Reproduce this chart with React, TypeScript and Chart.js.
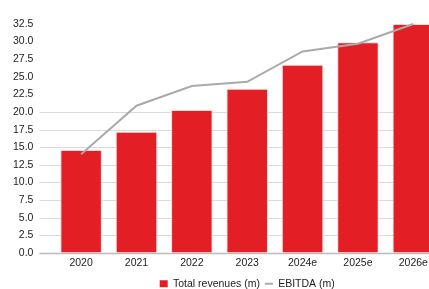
import { useEffect, useRef } from "react";
import { Chart, registerables } from "chart.js";

Chart.register(...registerables);

const categories = ["2020", "2021", "2022", "2023", "2024e", "2025e", "2026e"];
const revenues = [14.6, 17.2, 20.3, 23.3, 26.7, 29.9, 32.5];
const ebitda = [14.0, 20.9, 23.7, 24.3, 28.6, 29.7, 32.5];
const seriesNames = ["Total revenues (m)", "EBITDA (m)"];
const yMin = 0;
const yMax = 32.5;
const yStep = 2.5;
const gridMaxValue = 20;

const RED = "#e31e24";
const GREY = "#aaaaaa";
const FONT = "'Liberation Sans', Arial, sans-serif";
const TICK_LEN = 14;

const partialGrid = {
  id: "partialGrid",
  beforeDatasetsDraw(chart: any) {
    const { ctx, chartArea } = chart;
    const y = chart.scales.y;
    ctx.save();
    for (const t of y.ticks) {
      if (t.value > gridMaxValue) continue;
      const py = Math.round(y.getPixelForValue(t.value)) + 0.5;
      ctx.beginPath();
      ctx.strokeStyle = t.value === 0 ? "#bbbbbb" : "#dadada";
      ctx.lineWidth = t.value === 0 ? 1.5 : 1;
      ctx.moveTo(chartArea.left - TICK_LEN, py);
      ctx.lineTo(chartArea.right, py);
      ctx.stroke();
    }
    ctx.restore();
  },
};

export default function App() {
  const ref = useRef<HTMLCanvasElement | null>(null);

  useEffect(() => {
    document.body.style.margin = "0";
    const canvas = ref.current;
    if (!canvas) return;
    const chart = new Chart(canvas, {
      type: "bar",
      data: {
        labels: categories,
        datasets: [
          {
            type: "bar",
            label: seriesNames[0],
            data: revenues,
            backgroundColor: RED,
            borderColor: "rgba(255,210,210,0.9)",
            borderWidth: 1,
            categoryPercentage: 0.75,
            barPercentage: 1,
            order: 2,
          },
          {
            type: "line",
            label: seriesNames[1],
            data: ebitda,
            borderColor: GREY,
            backgroundColor: GREY,
            borderWidth: 2,
            pointRadius: 0,
            tension: 0,
            clip: false,
            order: 1,
          } as any,
        ],
      },
      plugins: [partialGrid],
      options: {
        responsive: false,
        animation: false,
        devicePixelRatio: 1,
        layout: { padding: { left: 7, right: 2, top: 24, bottom: 0 } },
        plugins: {
          tooltip: { enabled: false },
          legend: {
            position: "bottom",
            fullSize: false,
            labels: {
              usePointStyle: true,
              pointStyleWidth: 8,
              boxHeight: 7,
              padding: 5,
              color: "#222",
              font: { family: FONT, size: 10.5 },
              sort: (a: any, b: any) => a.datasetIndex - b.datasetIndex,
              generateLabels: (c: any) => {
                const items = Chart.defaults.plugins.legend.labels.generateLabels(c);
                return items.map((it: any) => ({
                  ...it,
                  pointStyle: it.datasetIndex === 0 ? "rect" : "line",
                  strokeStyle: it.datasetIndex === 0 ? RED : GREY,
                  fillStyle: it.datasetIndex === 0 ? RED : GREY,
                  lineWidth: it.datasetIndex === 0 ? 0 : 2,
                }));
              },
            },
          },
        },
        scales: {
          x: {
            grid: { display: false, drawTicks: false },
            border: { display: false },
            ticks: { color: "#222", font: { family: FONT, size: 10.5 }, padding: 4 },
          },
          y: {
            min: yMin,
            max: yMax,
            border: { display: false },
            grid: {
              color: "rgba(0,0,0,0)",
              drawOnChartArea: false,
              tickLength: TICK_LEN,
            },
            ticks: {
              stepSize: yStep,
              padding: 6,
              color: "#222",
              font: { family: FONT, size: 10.5 },
              callback: (v: any) => Number(v).toFixed(1),
            },
          },
        },
      },
    });
    return () => chart.destroy();
  }, []);

  return (
    <div style={{ width: 429, height: 289, overflow: "hidden" }}>
      <canvas ref={ref} width={443} height={299} style={{ display: "block" }} />
    </div>
  );
}
